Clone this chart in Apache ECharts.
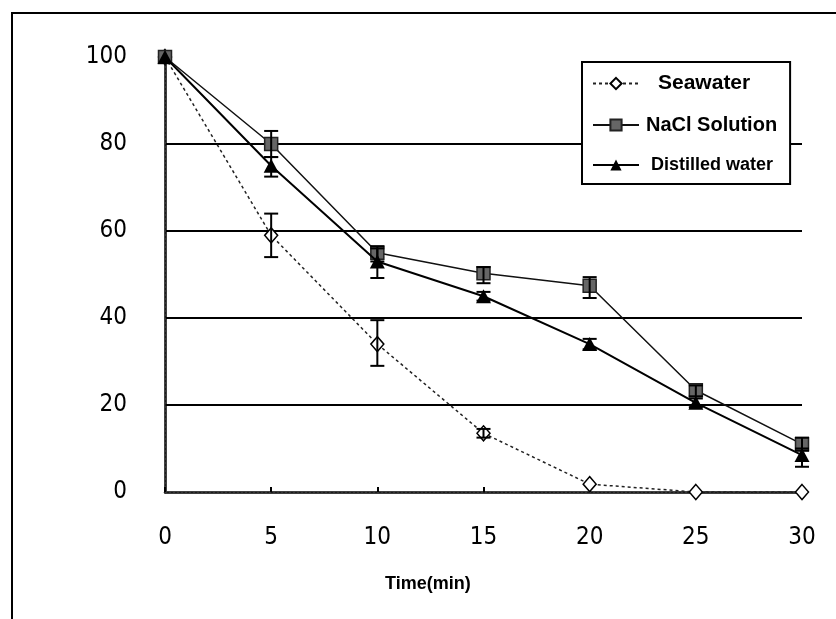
<!DOCTYPE html>
<html>
<head>
<meta charset="utf-8">
<script src="https://cdn.jsdelivr.net/npm/echarts@6/dist/echarts.min.js"></script>
<style>html,body{margin:0;padding:0;background:#fff;}#c{width:836px;height:619px;}</style>
</head>
<body>
<div id="c"></div>
<script>
// ---- data ----
const times = [0, 5, 10, 15, 20, 25, 30];
const xTicks = [0, 5, 10, 15, 20, 25, 30];
const yTicks = [0, 20, 40, 60, 80, 100];

const seawater      = [100, 59, 34, 13.5, 1.8, 0, 0];
const seawaterLow   = [null, 54, 29, 12.5, null, null, null];
const seawaterHigh  = [null, 64, 39.5, 14.5, null, null, null];

const nacl          = [100, 80, 55, 50.3, 47.4, 23.4, 11];
const naclLow       = [null, 77, 53, 48, 44.6, 22, 9.5];
const naclHigh      = [null, 83, 56.5, 51.7, 49.4, 24.5, 12.5];

const distilled     = [100, 75, 53, 45, 34, 20.5, 8.5];
const distilledLow  = [null, 72.5, 49.2, 44, 32.8, 19.5, 5.8];
const distilledHigh = [null, 77, 56, 46, 35.2, 21.5, 10];

const seriesNames = ['Seawater', 'NaCl Solution', 'Distilled water'];
const xTitle = 'Time(min)';

// ---- build ----
const pairs = (ys) => times.map((t, i) => [t, ys[i]]);
const errData = (lo, hi) => times.map((t, i) => [t, lo[i], hi[i]]).filter(d => d[1] != null);

function errRender(params, api) {
  const x = api.value(0);
  const lo = api.coord([x, api.value(1)]);
  const hi = api.coord([x, api.value(2)]);
  const w = 7;
  const st = { stroke: '#000', lineWidth: 2 };
  return {
    type: 'group',
    children: [
      { type: 'line', shape: { x1: lo[0], y1: lo[1], x2: hi[0], y2: hi[1] }, style: st },
      { type: 'line', shape: { x1: lo[0] - w, y1: lo[1], x2: lo[0] + w, y2: lo[1] }, style: st },
      { type: 'line', shape: { x1: hi[0] - w, y1: hi[1], x2: hi[0] + w, y2: hi[1] }, style: st }
    ]
  };
}

const tickFont = "'Liberation Sans Narrow','DejaVu Sans Condensed','Liberation Sans',sans-serif";

const chart = echarts.init(document.getElementById('c'), null, { renderer: 'canvas' });
chart.setOption({
  animation: false,
  backgroundColor: '#fff',
  grid: { left: 165, right: 34, top: 57, bottom: 127, containLabel: false },
  xAxis: [{
    type: 'value', min: 0, max: 30, interval: 5,
    axisLine: { show: true, lineStyle: { color: '#000', width: 2.5 } },
    axisTick: { show: true, inside: true, length: 5, lineStyle: { color: '#000', width: 2 } },
    axisLabel: { color: '#000', fontFamily: tickFont, fontSize: 24, margin: 34,
      formatter: v => xTicks.includes(v) ? String(v) : '' },
    splitLine: { show: false }
  }, {
    type: 'value', position: 'top', min: 0, max: 30,
    axisLine: { show: true, lineStyle: { color: '#444', width: 1.5, type: [2, 2] } },
    axisTick: { show: false }, axisLabel: { show: false }, splitLine: { show: false }
  }],
  yAxis: [{
    type: 'value', min: 0, max: 100, interval: 20,
    axisLine: { show: true, lineStyle: { color: '#000', width: 2.5 } },
    axisTick: { show: false },
    axisLabel: { color: '#000', fontFamily: tickFont, fontSize: 24, margin: 38,
      formatter: v => yTicks.includes(v) ? String(v) : '' },
    splitLine: { show: true, showMaxLine: false, showMinLine: false, lineStyle: { color: '#000', width: 2 } }
  }, {
    type: 'value', position: 'right', min: 0, max: 100,
    axisLine: { show: true, lineStyle: { color: '#444', width: 1.5, type: [2, 2] } },
    axisTick: { show: false }, axisLabel: { show: false }, splitLine: { show: false }
  }],
  legend: {
    orient: 'vertical', left: 582, top: 62,
    data: seriesNames,
    itemWidth: 46, itemHeight: 14, itemGap: 21,
    padding: [11, 13, 10, 10],
    backgroundColor: '#fff', borderColor: '#000', borderWidth: 2,
    formatter: function (name) {
      const k = name === 'Seawater' ? 's' : (name === 'NaCl Solution' ? 'n' : 'd');
      return '{' + k + '|' + name + '}';
    },
    textStyle: {
      color: '#000',
      rich: {
        s: { fontFamily: 'Liberation Sans, Arial', fontWeight: 'bold', fontSize: 21, padding: [0, 0, 0, 14] },
        n: { fontFamily: 'Liberation Sans, Arial', fontWeight: 'bold', fontSize: 20, padding: [0, 0, 0, 2] },
        d: { fontFamily: 'Liberation Sans, Arial', fontWeight: 'bold', fontSize: 18, padding: [0, 0, 0, 7] }
      }
    }
  },
  graphic: [
    { type: 'rect', shape: { x: 12, y: 13, width: 900, height: 700 }, style: { fill: 'none', stroke: '#000', lineWidth: 2 }, z: -1 },
    { type: 'text', left: 385, top: 575, style: { text: xTitle, font: "bold 18px 'Liberation Sans', Arial", fill: '#000' } }
  ],
  series: [
    {
      name: seriesNames[0], type: 'line', data: pairs(seawater),
      symbol: 'diamond', symbolSize: [13, 15],
      lineStyle: { color: '#222', width: 1.5, type: [3, 3] },
      itemStyle: { color: '#fff', borderColor: '#000', borderWidth: 1.5 },
      z: 3
    },
    {
      name: seriesNames[1], type: 'line', data: pairs(nacl),
      symbol: 'rect', symbolSize: 13,
      lineStyle: { color: '#111', width: 1.5 },
      itemStyle: { color: '#666', borderColor: '#222', borderWidth: 1.5 },
      z: 4
    },
    {
      name: seriesNames[2], type: 'line', data: pairs(distilled),
      symbol: 'triangle', symbolSize: [15, 14],
      lineStyle: { color: '#000', width: 2 },
      itemStyle: { color: '#000' },
      z: 5
    },
    { type: 'custom', renderItem: errRender, data: errData(seawaterLow, seawaterHigh), z: 6, silent: true },
    { type: 'custom', renderItem: errRender, data: errData(naclLow, naclHigh), z: 6, silent: true },
    { type: 'custom', renderItem: errRender, data: errData(distilledLow, distilledHigh), z: 6, silent: true }
  ]
});
</script>
</body>
</html>
